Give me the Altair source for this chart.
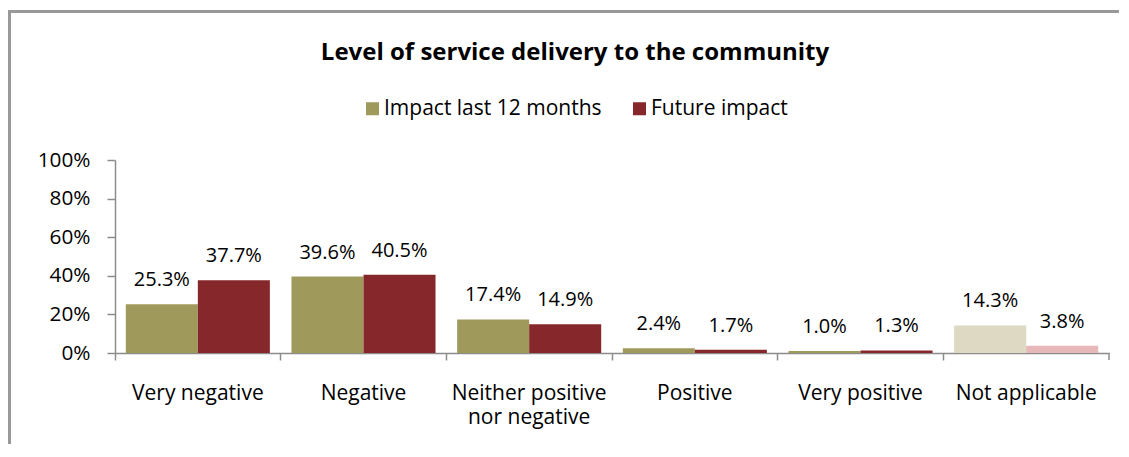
import altair as alt
import pandas as pd

categories = ["Very negative", "Negative", "Neither positive nor negative",
              "Positive", "Very positive", "Not applicable"]
series = ["Impact last 12 months", "Future impact"]
last12 = [25.3, 39.6, 17.4, 2.4, 1.0, 14.3]
future = [37.7, 40.5, 14.9, 1.7, 1.3, 3.8]
y_ticks = [0, 0.2, 0.4, 0.6, 0.8, 1.0]

shade_domain = ["Impact last 12 months", "Future impact",
                "Impact last 12 months (n/a)", "Future impact (n/a)"]
shade_range = ["#A0995C", "#86282B", "#DDD9C3", "#E6B9B8"]

rows = []
for i, c in enumerate(categories):
    for s, vals in zip(series, [last12, future]):
        shade = s + " (n/a)" if c == "Not applicable" else s
        rows.append({"category": c, "series": s, "shade": shade,
                     "value": vals[i] / 100.0})
df = pd.DataFrame(rows)

FONT = "Open Sans"
AX = "#8c8c8c"
W, H = 994, 193
PAD = {"left": 107, "top": 152, "right": 10, "bottom": 91}

x_axis = alt.Axis(orient="bottom", ticks=True, domain=True, bandPosition=0,
                  domainColor=AX, domainWidth=1.5,
                  tickColor=AX, tickWidth=1.5, tickSize=7,
                  labelAngle=0, labelAlign="center", labelFont=FONT, labelFontSize=21,
                  labelColor="black", labelPadding=22, labelLineHeight=24,
                  labelLimit=300,
                  labelExpr="datum.value == 'Neither positive nor negative' ? ['Neither positive', 'nor negative'] : datum.label")
x_enc = alt.X("category:N", sort=categories, title=None,
              scale=alt.Scale(paddingInner=0, paddingOuter=0), axis=x_axis)
xoff = alt.XOffset("series:N", sort=series,
                   scale=alt.Scale(paddingInner=0, paddingOuter=0.15))
y_axis = alt.Axis(orient="left", values=y_ticks, format=".0%", grid=False, domain=True,
                  domainColor=AX, tickColor=AX, ticks=True,
                  tickSize=8, domainWidth=1.5, tickWidth=1.5,
                  labelFont=FONT, labelFontSize=20.8, labelColor="black",
                  labelPadding=17, labelOverlap=False)
y_enc = alt.Y("value:Q", title=None,
              scale=alt.Scale(domain=[0, 1], nice=False), axis=y_axis)

bars = alt.Chart(df).mark_bar().encode(
    x=x_enc,
    xOffset=xoff,
    y=y_enc,
    color=alt.Color("shade:N", scale=alt.Scale(domain=shade_domain, range=shade_range),
                    legend=alt.Legend(values=series, title=None, orient="none",
                                      direction="horizontal", legendX=247, legendY=-62,
                                      symbolType="square", symbolSize=169,
                                      symbolStrokeWidth=0, labelFont=FONT,
                                      labelFontSize=21, labelColor="black",
                                      labelLimit=400,
                                      labelOffset=1, columnPadding=27)),
)

labels = alt.Chart(df).mark_text(dy=-18, baseline="alphabetic", font=FONT,
                                 fontSize=20, color="black").encode(
    x=x_enc,
    xOffset=xoff,
    y=y_enc,
    text=alt.Text("value:Q", format=".1%"),
)

one = pd.DataFrame({"k": [0]})
end_tick = alt.Chart(one).mark_rect(color=AX).encode(
    x=alt.value(W - 0.75), x2=alt.value(W + 0.75),
    y=alt.value(H), y2=alt.value(H + 7))

# chart frame: only its left and top edges fall inside the picture
frame_left = alt.Chart(one).mark_rect(color="#999999").encode(
    x=alt.value(-107), x2=alt.value(-104),
    y=alt.value(-150), y2=alt.value(H + PAD["bottom"]))
frame_top = alt.Chart(one).mark_rect(color="#999999").encode(
    x=alt.value(-107), x2=alt.value(W + PAD["right"]),
    y=alt.value(-150), y2=alt.value(-147))

chart = alt.layer(frame_left, frame_top, bars, labels, end_tick).properties(
    width=W, height=H,
    title=alt.TitleParams("Level of service delivery to the community",
                          font=FONT, fontSize=24, fontWeight="bold", color="black",
                          anchor="middle", offset=-55, dx=-37),
    autosize=alt.AutoSizeParams(type="none"),
    padding=PAD,
).configure(
    background="white",
    view=alt.ViewConfig(stroke="transparent", strokeWidth=0),
)

chart.save("out.html", embed_options={"renderer": "svg", "actions": False})
